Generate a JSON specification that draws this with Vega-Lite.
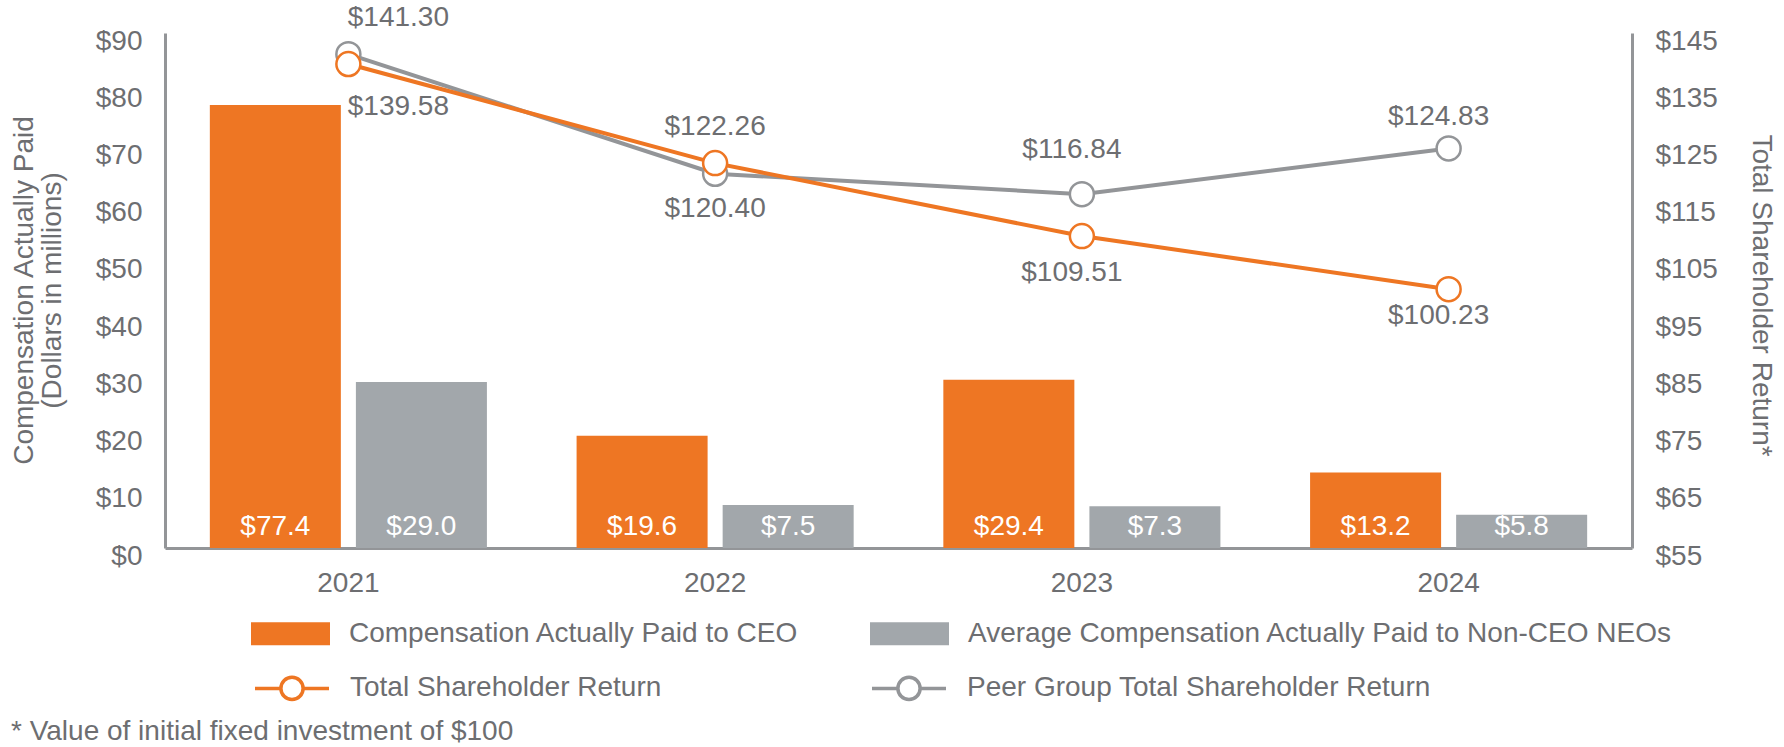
{
  "$schema": "https://vega.github.io/schema/vega-lite/v6.json",
  "width": 1467,
  "height": 515,
  "autosize": {"type": "none"},
  "padding": {"left": 165, "top": 33, "right": 152, "bottom": 199},
  "background": "white",
  "config": {
    "font": "Liberation Sans",
    "view": {"stroke": null},
    "axis": {
      "labelFont": "Liberation Sans",
      "labelFontSize": 28,
      "labelColor": "#6D6E71",
      "titleFont": "Liberation Sans",
      "titleFontSize": 28,
      "titleColor": "#6D6E71",
      "titleFontWeight": "normal",
      "domainColor": "#939598",
      "domainWidth": 3,
      "ticks": false,
      "grid": false
    },
    "legend": {
      "labelFont": "Liberation Sans",
      "labelFontSize": 28,
      "labelColor": "#6D6E71",
      "labelLimit": 2000,
      "padding": 0
    }
  },
  "title": {
    "text": "* Value of initial fixed investment of $100",
    "orient": "bottom",
    "anchor": "start",
    "frame": "group",
    "dx": -154,
    "offset": 11,
    "fontSize": 28,
    "fontWeight": "normal",
    "font": "Liberation Sans",
    "color": "#6D6E71"
  },
  "datasets": {
    "bars": [
      {"year": "2021", "series": "Compensation Actually Paid to CEO", "value": 77.4},
      {"year": "2022", "series": "Compensation Actually Paid to CEO", "value": 19.6},
      {"year": "2023", "series": "Compensation Actually Paid to CEO", "value": 29.4},
      {"year": "2024", "series": "Compensation Actually Paid to CEO", "value": 13.2},
      {"year": "2021", "series": "Average Compensation Actually Paid to Non-CEO NEOs", "value": 29.0},
      {"year": "2022", "series": "Average Compensation Actually Paid to Non-CEO NEOs", "value": 7.5},
      {"year": "2023", "series": "Average Compensation Actually Paid to Non-CEO NEOs", "value": 7.3},
      {"year": "2024", "series": "Average Compensation Actually Paid to Non-CEO NEOs", "value": 5.8}
    ],
    "lines": [
      {"year": "2021", "series": "Peer Group Total Shareholder Return", "value": 141.30},
      {"year": "2022", "series": "Peer Group Total Shareholder Return", "value": 120.40},
      {"year": "2023", "series": "Peer Group Total Shareholder Return", "value": 116.84},
      {"year": "2024", "series": "Peer Group Total Shareholder Return", "value": 124.83},
      {"year": "2021", "series": "Total Shareholder Return", "value": 139.58},
      {"year": "2022", "series": "Total Shareholder Return", "value": 122.26},
      {"year": "2023", "series": "Total Shareholder Return", "value": 109.51},
      {"year": "2024", "series": "Total Shareholder Return", "value": 100.23}
    ]
  },
  "layer": [
    {
      "data": {"name": "bars"},
      "encoding": {
        "x": {
          "field": "year", "type": "nominal",
          "scale": {"paddingInner": 0, "paddingOuter": 0},
          "axis": {"title": null, "labelAngle": 0, "labelPadding": 35, "labelBaseline": "middle"}
        },
        "xOffset": {
          "field": "series", "type": "nominal",
          "scale": {"domain": ["Compensation Actually Paid to CEO", "Average Compensation Actually Paid to Non-CEO NEOs"], "paddingInner": 0.103, "paddingOuter": 0.307}
        }
      },
      "layer": [
        {
          "mark": {"type": "bar"},
          "encoding": {
            "y": {
              "field": "value", "type": "quantitative",
              "scale": {"domain": [0, 90], "nice": false},
              "axis": {
                "orient": "left",
                "values": [0, 10, 20, 30, 40, 50, 60, 70, 80, 90],
                "labelExpr": "'$' + datum.value",
                "labelPadding": 23,
                "labelOffset": 8,
                "title": ["Compensation Actually Paid", "(Dollars in millions)"],
                "titleAngle": -90,
                "titleX": -141,
                "titleY": 257,
                "titleAlign": "center",
                "titleBaseline": "middle",
                "titleLineHeight": 28
              }
            },
            "fill": {
              "field": "series", "type": "nominal",
              "scale": {"domain": ["Compensation Actually Paid to CEO", "Average Compensation Actually Paid to Non-CEO NEOs"], "range": ["#EE7623", "#A2A7AB"]},
              "legend": {
                "title": null,
                "orient": "none",
                "legendX": 86,
                "legendY": 561,
                "columns": 2,
                "columnPadding": 71,
                "symbolType": "M-1,-0.291H1V0.291H-1Z",
                "symbolSize": 6241,
                "symbolStrokeWidth": 0,
                "labelOffset": 19
              }
            }
          }
        },
        {
          "mark": {"type": "text", "color": "white", "fontSize": 28, "baseline": "middle", "align": "center", "dy": -21},
          "encoding": {
            "y": {"datum": 0, "type": "quantitative"},
            "text": {"field": "value", "type": "quantitative", "format": "$.1f"}
          }
        }
      ]
    },
    {
      "data": {"name": "lines"},
      "encoding": {
        "x": {
          "field": "year", "type": "nominal",
          "axis": {"title": null, "labelAngle": 0, "labelPadding": 35, "labelBaseline": "middle"}
        },
        "y": {
          "field": "value", "type": "quantitative",
          "scale": {"domain": [55, 145], "nice": false},
          "axis": {
            "orient": "right",
            "values": [55, 65, 75, 85, 95, 105, 115, 125, 135, 145],
            "labelExpr": "'$' + datum.value",
            "labelPadding": 23,
            "labelOffset": 8,
            "title": "Total Shareholder Return*",
            "titleAngle": 90,
            "titleX": 128,
            "titleY": 262,
            "titleAlign": "center",
            "titleBaseline": "middle"
          }
        }
      },
      "layer": [
        {
          "mark": {"type": "line", "strokeWidth": 4},
          "encoding": {
            "stroke": {
              "field": "series", "type": "nominal",
              "scale": {"domain": ["Total Shareholder Return", "Peer Group Total Shareholder Return"], "range": ["#EE7623", "#939598"]},
              "legend": {
                "title": null,
                "orient": "none",
                "legendX": 88,
                "legendY": 616,
                "columns": 2,
                "columnPadding": 203,
                "symbolType": "M-1,0H-0.3M0.3,0H1M-0.3,0A0.3,0.3,0,1,0,0.3,0A0.3,0.3,0,1,0,-0.3,0",
                "symbolSize": 5476,
                "symbolStrokeWidth": 3.5,
                "symbolFillColor": "white",
                "labelOffset": 19,
                "encode": {"symbols": {"update": {"fill": {"value": "white"}, "opacity": {"value": 1}}}}
              }
            }
          }
        },
        {
          "mark": {"type": "point", "shape": "circle", "filled": true, "fill": "white", "size": 576, "strokeWidth": 2.5, "opacity": 1},
          "encoding": {
            "stroke": {"field": "series", "type": "nominal"}
          }
        },
        {
          "transform": [{"filter": "datum.year == '2021' && datum.series == 'Peer Group Total Shareholder Return'"}],
          "mark": {"type": "text", "fontSize": 28, "color": "#6D6E71", "baseline": "middle", "align": "center", "dx": 50, "dy": -36},
          "encoding": {"text": {"field": "value", "type": "quantitative", "format": "$.2f"}}
        },
        {
          "transform": [{"filter": "datum.year == '2021' && datum.series == 'Total Shareholder Return'"}],
          "mark": {"type": "text", "fontSize": 28, "color": "#6D6E71", "baseline": "middle", "align": "center", "dx": 50, "dy": 43},
          "encoding": {"text": {"field": "value", "type": "quantitative", "format": "$.2f"}}
        },
        {
          "transform": [{"filter": "datum.year == '2022' && datum.series == 'Total Shareholder Return'"}],
          "mark": {"type": "text", "fontSize": 28, "color": "#6D6E71", "baseline": "middle", "align": "center", "dx": 0, "dy": -36},
          "encoding": {"text": {"field": "value", "type": "quantitative", "format": "$.2f"}}
        },
        {
          "transform": [{"filter": "datum.year == '2022' && datum.series == 'Peer Group Total Shareholder Return'"}],
          "mark": {"type": "text", "fontSize": 28, "color": "#6D6E71", "baseline": "middle", "align": "center", "dx": 0, "dy": 35},
          "encoding": {"text": {"field": "value", "type": "quantitative", "format": "$.2f"}}
        },
        {
          "transform": [{"filter": "datum.year == '2023' && datum.series == 'Peer Group Total Shareholder Return'"}],
          "mark": {"type": "text", "fontSize": 28, "color": "#6D6E71", "baseline": "middle", "align": "center", "dx": -10, "dy": -44},
          "encoding": {"text": {"field": "value", "type": "quantitative", "format": "$.2f"}}
        },
        {
          "transform": [{"filter": "datum.year == '2023' && datum.series == 'Total Shareholder Return'"}],
          "mark": {"type": "text", "fontSize": 28, "color": "#6D6E71", "baseline": "middle", "align": "center", "dx": -10, "dy": 37},
          "encoding": {"text": {"field": "value", "type": "quantitative", "format": "$.2f"}}
        },
        {
          "transform": [{"filter": "datum.year == '2024' && datum.series == 'Peer Group Total Shareholder Return'"}],
          "mark": {"type": "text", "fontSize": 28, "color": "#6D6E71", "baseline": "middle", "align": "center", "dx": -10, "dy": -31},
          "encoding": {"text": {"field": "value", "type": "quantitative", "format": "$.2f"}}
        },
        {
          "transform": [{"filter": "datum.year == '2024' && datum.series == 'Total Shareholder Return'"}],
          "mark": {"type": "text", "fontSize": 28, "color": "#6D6E71", "baseline": "middle", "align": "center", "dx": -10, "dy": 27},
          "encoding": {"text": {"field": "value", "type": "quantitative", "format": "$.2f"}}
        }
      ]
    }
  ],
  "resolve": {"scale": {"y": "independent"}}
}
